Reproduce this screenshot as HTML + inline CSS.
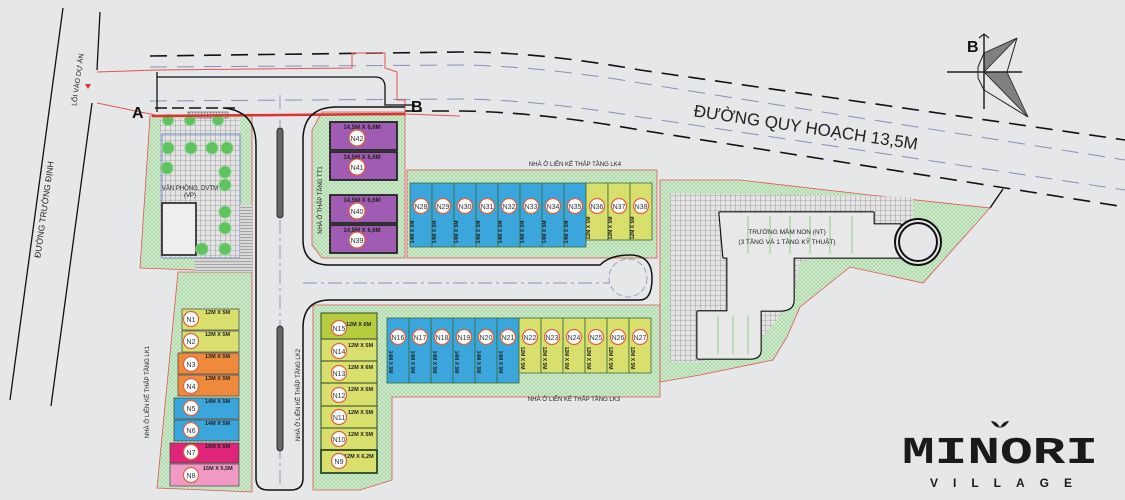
<!DOCTYPE html>
<html><head><meta charset="utf-8"><style>
html,body{margin:0;padding:0;background:#e6e7e8;}
svg{display:block;font-family:"Liberation Sans","DejaVu Sans",sans-serif;}
.b{font-weight:bold;}
</style></head><body>
<svg width="1125" height="500" viewBox="0 0 1125 500" xmlns="http://www.w3.org/2000/svg">
<defs>
<pattern id="h" width="4" height="4" patternUnits="userSpaceOnUse"><rect width="4" height="4" fill="#d6ecd2"/><path d="M0 0L4 4M4 0L0 4" stroke="#98d098" stroke-width="0.6"/></pattern>
<pattern id="g" width="5" height="5" patternUnits="userSpaceOnUse"><rect width="5" height="5" fill="#e4e4e4"/><path d="M0 0H5M0 0V5" stroke="#6e6e6e" stroke-width="0.6"/></pattern>
<pattern id="st" width="3" height="3" patternUnits="userSpaceOnUse"><rect width="3" height="3" fill="#d8d8d8"/><path d="M0 0H3" stroke="#555" stroke-width="0.8"/></pattern>
<pattern id="sv" width="3" height="3" patternUnits="userSpaceOnUse"><rect width="3" height="3" fill="#d8d8d8"/><path d="M0 0V3" stroke="#555" stroke-width="0.8"/></pattern>
</defs>
<rect width="1125" height="500" fill="#e6e7e8"/>

<!-- Truong Dinh road -->
<line x1="63" y1="8" x2="10" y2="400" stroke="#111" stroke-width="1.3"/>
<path d="M100 12 L97 70 M92 103 L51 406" stroke="#111" stroke-width="1.3" fill="none"/>
<text x="0" y="0" font-size="8.5" transform="translate(47,210) rotate(-82)" text-anchor="middle" fill="#222">ĐƯỜNG TRƯỜNG ĐỊNH</text>
<text x="0" y="0" font-size="7" transform="translate(80,80) rotate(-82)" text-anchor="middle" fill="#222">LỐI VÀO DỰ ÁN</text>
<path d="M85 84 L91 84 L88 89 Z" fill="#d33"/>

<!-- planned road lines -->
<path d="M150 56 L460 52 Q540 52 640 70 L1125 140" stroke="#111" stroke-width="1.6" fill="none" stroke-dasharray="17 10"/>
<path d="M150 67 L460 65 Q540 66 640 83 L1125 160" stroke="#8890b8" stroke-width="1" fill="none" stroke-dasharray="17 10"/>
<path d="M150 101 L460 99 Q540 100 640 117 L1125 190" stroke="#8890b8" stroke-width="1" fill="none" stroke-dasharray="17 10"/>
<path d="M405 111 L460 111 Q540 112 640 130 L1125 207" stroke="#111" stroke-width="1.6" fill="none" stroke-dasharray="17 10"/>
<path d="M155 108 L235 108" stroke="#111" stroke-width="1.4" stroke-dasharray="12 5"/>
<line x1="1003" y1="189" x2="990" y2="208" stroke="#111" stroke-width="1.4"/>
<text x="0" y="0" font-size="17" transform="translate(805,133) rotate(8.5)" text-anchor="middle" fill="#222">ĐƯỜNG QUY HOẠCH 13,5M</text>

<!-- red boundary top -->
<path d="M97 72 L157 70 L352 68 L352 53 L385 53 L385 68 L397 72 L397 100 L405 100 L405 118" stroke="#e25555" stroke-width="1" fill="none"/>
<path d="M97 103 L155 115" stroke="#e25555" stroke-width="1" fill="none"/>
<path d="M157 77 H375 Q385 77 385 87 V105 H415" stroke="#111" stroke-width="1.3" fill="none"/>
<line x1="157" y1="72" x2="157" y2="112" stroke="#111" stroke-width="1.3"/>

<!-- hatched areas -->
<path d="M150 116 L252 116 L252 272 L140 268 Z" fill="url(#h)" stroke="#e25555" stroke-width="0.8"/>
<path d="M178 272 L252 272 L252 492 L157 488 Z" fill="url(#h)" stroke="#e25555" stroke-width="0.8"/>
<path d="M322 112 L405 112 L405 258 L322 258 L312 245 L312 130 Z" fill="url(#h)" stroke="#e25555" stroke-width="0.8"/>
<rect x="407" y="170" width="250" height="88" fill="url(#h)" stroke="#e25555" stroke-width="0.8"/>
<path d="M313 305 L660 305 L660 397 L392 397 L392 480 L360 490 L313 490 Z" fill="url(#h)" stroke="#e25555" stroke-width="0.8"/>
<path d="M660 180 L740 180 L870 195 L990 208 L923 283 L850 267 L800 307 L787 337 L773 360 L700 375 L660 382 Z" fill="url(#h)" stroke="#e25555" stroke-width="0.8"/>
<path d="M670 193 L913 197 L913 225 L800 262 L793 300 L760 340 L700 362 L670 362 Z" fill="url(#g)"/>

<!-- office -->
<rect x="160" y="118" width="80" height="140" fill="url(#g)"/>
<rect x="162" y="134" width="78" height="124" fill="none" stroke="#7f9ad0" stroke-width="1.2"/>
<rect x="188" y="112" width="40" height="6" fill="url(#sv)" stroke="#333" stroke-width="0.5"/>
<rect x="162" y="203" width="34" height="52" fill="#eee" stroke="#111" stroke-width="1.5"/>
<path d="M195 258 L240 258 L240 205 L252 205 L252 272 L195 272 Z" fill="url(#st)"/>
<g fill="#5fc35f" stroke="#8cd38c" stroke-width="1">
<circle cx="168" cy="120" r="5.5"/><circle cx="190" cy="120" r="5.5"/><circle cx="218" cy="120" r="5.5"/>
<circle cx="168" cy="148" r="6"/><circle cx="191" cy="148" r="6"/><circle cx="212" cy="148" r="6"/><circle cx="227" cy="148" r="6"/>
<circle cx="167" cy="168" r="6"/><circle cx="225" cy="172" r="6"/><circle cx="225" cy="185" r="6"/>
<circle cx="225" cy="212" r="6"/><circle cx="225" cy="228" r="6"/><circle cx="202" cy="249" r="6"/><circle cx="225" cy="249" r="6"/>
</g>
<text x="190" y="190" font-size="6" text-anchor="middle" fill="#222">VĂN PHÒNG, DVTM</text>
<text x="190" y="197" font-size="6" text-anchor="middle" fill="#222">(VP)</text>

<!-- A-B line -->
<line x1="152" y1="116" x2="405" y2="114" stroke="#e03030" stroke-width="2.5"/>
<line x1="405" y1="114" x2="460" y2="116" stroke="#e25555" stroke-width="1"/>
<text x="132" y="118" font-size="16" class="b" fill="#111">A</text>
<text x="411" y="112" font-size="16" class="b" fill="#111">B</text>

<!-- curbs -->
<path d="M225 108 Q256 112 256 145 V478 Q256 490 268 490 H291 Q303 490 303 478 V328 Q303 300 330 300 H640 Q652 300 652 278 Q652 255 630 255 Q610 255 600 265 H330 Q303 265 303 240 V140 Q303 108 335 107 H405" stroke="#111" stroke-width="1.5" fill="none"/>
<circle cx="628" cy="278" r="19" fill="none" stroke="#8890b8" stroke-width="0.8" stroke-dasharray="6 3"/>
<path d="M280 95 V485 M303 283 H610" stroke="#8890b8" stroke-width="0.9" stroke-dasharray="14 4 3 4"/>
<rect x="277" y="128" width="6" height="90" rx="3" fill="#666" stroke="#111" stroke-width="0.8"/>
<rect x="277" y="326" width="6" height="125" rx="3" fill="#666" stroke="#111" stroke-width="0.8"/>

<!-- LK1 -->
<g font-size="5.5" class="b" fill="#222">
<rect x="182" y="309" width="57" height="21" fill="#d8df6c" stroke="#444" stroke-width="0.7"/>
<rect x="182" y="331" width="57" height="21" fill="#d8df6c" stroke="#444" stroke-width="0.7"/>
<rect x="178" y="353" width="61" height="21" fill="#ef8a3c" stroke="#444" stroke-width="0.7"/>
<rect x="178" y="375" width="61" height="21" fill="#ef8a3c" stroke="#444" stroke-width="0.7"/>
<rect x="174" y="398" width="65" height="21" fill="#3aa6dc" stroke="#444" stroke-width="0.7"/>
<rect x="174" y="420" width="65" height="21" fill="#3aa6dc" stroke="#444" stroke-width="0.7"/>
<rect x="170" y="443" width="69" height="20" fill="#e0247a" stroke="#444" stroke-width="0.7"/>
<rect x="170" y="464" width="69" height="22" fill="#f29ac6" stroke="#444" stroke-width="0.7"/>
<text x="205" y="314">12M X 5M</text><text x="205" y="336">12M X 5M</text>
<text x="205" y="358">13M X 5M</text><text x="205" y="380">13M X 5M</text>
<text x="205" y="403">14M X 5M</text><text x="205" y="425">14M X 5M</text>
<text x="205" y="448">15M X 5M</text><text x="203" y="470">15M X 5,5M</text>
</g>
<text x="0" y="0" font-size="6" transform="translate(149,392) rotate(-90)" text-anchor="middle" fill="#222">NHÀ Ở LIÊN KẾ THẤP TẦNG LK1</text>

<!-- TT1 -->
<g fill="#a05cb2" stroke="#222" stroke-width="1.8">
<rect x="330" y="122" width="67" height="28"/><rect x="330" y="152" width="67" height="28"/>
<rect x="330" y="195" width="67" height="28"/><rect x="330" y="225" width="67" height="28"/>
</g>
<g font-size="6" class="b" fill="#222" text-anchor="middle">
<text x="362" y="129">14,5M X 6,6M</text><text x="362" y="159">14,5M X 6,6M</text>
<text x="362" y="202">14,5M X 6,6M</text><text x="362" y="232">14,5M X 6,6M</text>
</g>
<text x="0" y="0" font-size="6" transform="translate(322,200) rotate(-90)" text-anchor="middle" fill="#222">NHÀ Ở THẤP TẦNG TT1</text>

<!-- LK4 -->
<g stroke="#3a6b3a" stroke-width="0.8">
<rect x="410" y="183" width="22" height="64" fill="#3aa6dc"/><rect x="432" y="183" width="22" height="64" fill="#3aa6dc"/>
<rect x="454" y="183" width="22" height="64" fill="#3aa6dc"/><rect x="476" y="183" width="22" height="64" fill="#3aa6dc"/>
<rect x="498" y="183" width="22" height="64" fill="#3aa6dc"/><rect x="520" y="183" width="22" height="64" fill="#3aa6dc"/>
<rect x="542" y="183" width="22" height="64" fill="#3aa6dc"/><rect x="564" y="183" width="22" height="64" fill="#3aa6dc"/>
<rect x="586" y="183" width="22" height="57" fill="#d8df6c"/><rect x="608" y="183" width="22" height="57" fill="#d8df6c"/>
<rect x="630" y="183" width="22" height="57" fill="#d8df6c"/>
</g>
<text x="575" y="166" font-size="6" text-anchor="middle" fill="#222">NHÀ Ở LIÊN KẾ THẤP TẦNG LK4</text>

<!-- LK3 -->
<g stroke="#3a6b3a" stroke-width="0.8">
<rect x="387" y="318" width="22" height="65" fill="#3aa6dc"/><rect x="409" y="318" width="22" height="65" fill="#3aa6dc"/>
<rect x="431" y="318" width="22" height="65" fill="#3aa6dc"/><rect x="453" y="318" width="22" height="65" fill="#3aa6dc"/>
<rect x="475" y="318" width="22" height="65" fill="#3aa6dc"/><rect x="497" y="318" width="22" height="65" fill="#3aa6dc"/>
<rect x="519" y="318" width="22" height="55" fill="#d8df6c"/><rect x="541" y="318" width="22" height="55" fill="#d8df6c"/>
<rect x="563" y="318" width="22" height="55" fill="#d8df6c"/><rect x="585" y="318" width="22" height="55" fill="#d8df6c"/>
<rect x="607" y="318" width="22" height="55" fill="#d8df6c"/><rect x="629" y="318" width="22" height="55" fill="#d8df6c"/>
</g>
<text x="574" y="401" font-size="6" text-anchor="middle" fill="#222">NHÀ Ở LIÊN KẾ THẤP TẦNG LK3</text>

<!-- LK2 -->
<g stroke="#2a4a2a" stroke-width="1">
<rect x="321" y="313" width="56" height="26" fill="#b6cc3e"/>
<rect x="321" y="339" width="56" height="22" fill="#d8df6c"/><rect x="321" y="361" width="56" height="22" fill="#d8df6c"/>
<rect x="321" y="383" width="56" height="23" fill="#d8df6c"/><rect x="321" y="406" width="56" height="22" fill="#d8df6c"/>
<rect x="321" y="428" width="56" height="22" fill="#d8df6c"/><rect x="321" y="450" width="56" height="23" fill="#d8df6c" stroke-width="1.8"/>
</g>
<g font-size="5.5" class="b" fill="#222">
<text x="346" y="326">12M X 6M</text><text x="348" y="347">12M X 5M</text><text x="348" y="369">12M X 6M</text>
<text x="348" y="391">12M X 6M</text><text x="348" y="414">12M X 5M</text><text x="348" y="436">12M X 5M</text>
<text x="344" y="458">12M X 6,2M</text>
</g>
<text x="0" y="0" font-size="6" transform="translate(300,395) rotate(-90)" text-anchor="middle" fill="#222">NHÀ Ở LIÊN KẾ THẤP TẦNG LK2</text>

<!-- vertical size labels -->
<g font-size="5" class="b" fill="#222" text-anchor="middle">
<text transform="translate(414,232) rotate(-90)">14M X 5M</text><text transform="translate(436,232) rotate(-90)">14M X 5M</text>
<text transform="translate(458,232) rotate(-90)">14M X 5M</text><text transform="translate(480,232) rotate(-90)">14M X 5M</text>
<text transform="translate(502,232) rotate(-90)">14M X 5M</text><text transform="translate(524,232) rotate(-90)">14M X 5M</text>
<text transform="translate(546,232) rotate(-90)">14M X 5M</text><text transform="translate(568,232) rotate(-90)">14M X 5M</text>
<text transform="translate(590,228) rotate(-90)">12M X 5M</text><text transform="translate(612,228) rotate(-90)">12M X 5M</text>
<text transform="translate(634,228) rotate(-90)">12M X 5M</text>
<text transform="translate(389,362) rotate(90)">14M X 5M</text><text transform="translate(411,362) rotate(90)">14M X 5M</text>
<text transform="translate(433,362) rotate(90)">14M X 5M</text><text transform="translate(455,362) rotate(90)">14M X 5M</text>
<text transform="translate(477,362) rotate(90)">14M X 5M</text><text transform="translate(499,362) rotate(90)">14M X 5M</text>
<text transform="translate(521,358) rotate(90)">12M X 5M</text><text transform="translate(543,358) rotate(90)">12M X 5M</text>
<text transform="translate(565,358) rotate(90)">12M X 5M</text><text transform="translate(587,358) rotate(90)">12M X 5M</text>
<text transform="translate(609,358) rotate(90)">12M X 5M</text><text transform="translate(631,358) rotate(90)">12M X 5M</text>
</g>

<!-- badges -->
<g fill="#fff" stroke="#e0603a" stroke-width="1.2">
<circle cx="191" cy="319" r="7.5"/><circle cx="191" cy="341" r="7.5"/><circle cx="191" cy="364" r="7.5"/><circle cx="191" cy="386" r="7.5"/>
<circle cx="191" cy="408" r="7.5"/><circle cx="191" cy="430" r="7.5"/><circle cx="191" cy="452" r="7.5"/><circle cx="191" cy="475" r="7.5"/>
<circle cx="357" cy="138" r="8"/><circle cx="357" cy="167" r="8"/><circle cx="357" cy="211" r="8"/><circle cx="357" cy="240" r="8"/>
<circle cx="339" cy="328" r="7.5"/><circle cx="339" cy="351" r="7.5"/><circle cx="339" cy="373" r="7.5"/><circle cx="339" cy="395" r="7.5"/>
<circle cx="339" cy="417" r="7.5"/><circle cx="339" cy="439" r="7.5"/><circle cx="339" cy="461" r="7.5"/>
<circle cx="421" cy="206" r="7.5"/><circle cx="443" cy="206" r="7.5"/><circle cx="465" cy="206" r="7.5"/><circle cx="487" cy="206" r="7.5"/>
<circle cx="509" cy="206" r="7.5"/><circle cx="531" cy="206" r="7.5"/><circle cx="553" cy="206" r="7.5"/><circle cx="575" cy="206" r="7.5"/>
<circle cx="597" cy="206" r="7.5"/><circle cx="619" cy="206" r="7.5"/><circle cx="641" cy="206" r="7.5"/>
<circle cx="398" cy="337" r="7.5"/><circle cx="420" cy="337" r="7.5"/><circle cx="442" cy="337" r="7.5"/><circle cx="464" cy="337" r="7.5"/>
<circle cx="486" cy="337" r="7.5"/><circle cx="508" cy="337" r="7.5"/><circle cx="530" cy="337" r="7.5"/><circle cx="552" cy="337" r="7.5"/>
<circle cx="574" cy="337" r="7.5"/><circle cx="596" cy="337" r="7.5"/><circle cx="618" cy="337" r="7.5"/><circle cx="640" cy="337" r="7.5"/>
</g>
<g font-size="7" fill="#333" text-anchor="middle">
<text x="191" y="322">N1</text><text x="191" y="344">N2</text><text x="191" y="367">N3</text><text x="191" y="389">N4</text>
<text x="191" y="411">N5</text><text x="191" y="433">N6</text><text x="191" y="455">N7</text><text x="191" y="478">N8</text>
<text x="357" y="141">N42</text><text x="357" y="170">N41</text><text x="357" y="214">N40</text><text x="357" y="243">N39</text>
<text x="339" y="331">N15</text><text x="339" y="354">N14</text><text x="339" y="376">N13</text><text x="339" y="398">N12</text>
<text x="339" y="420">N11</text><text x="339" y="442">N10</text><text x="339" y="464">N9</text>
<text x="421" y="209">N28</text><text x="443" y="209">N29</text><text x="465" y="209">N30</text><text x="487" y="209">N31</text>
<text x="509" y="209">N32</text><text x="531" y="209">N33</text><text x="553" y="209">N34</text><text x="575" y="209">N35</text>
<text x="597" y="209">N36</text><text x="619" y="209">N37</text><text x="641" y="209">N38</text>
<text x="398" y="340">N16</text><text x="420" y="340">N17</text><text x="442" y="340">N18</text><text x="464" y="340">N19</text>
<text x="486" y="340">N20</text><text x="508" y="340">N21</text><text x="530" y="340">N22</text><text x="552" y="340">N23</text>
<text x="574" y="340">N24</text><text x="596" y="340">N25</text><text x="618" y="340">N26</text><text x="640" y="340">N27</text>
</g>

<!-- school -->
<path d="M720 213 L873 213 L873 225 L900 225 L900 257 L793 257 L793 300 Q793 310 780 310 L760 310 L760 350 Q760 358 750 358 L698 358 L698 312 L728 312 L728 257 L724 257 Z" fill="#e8e8e8" stroke="#111" stroke-width="3.5" stroke-linejoin="round"/>
<path d="M720 213 L873 213 L873 225 L900 225 L900 257 L793 257 L793 300 Q793 310 780 310 L760 310 L760 350 Q760 358 750 358 L698 358 L698 312 L728 312 L728 257 L724 257 Z" fill="#e8e8e8" stroke="#e8e8e8" stroke-width="1.2" stroke-linejoin="round"/>
<g stroke="#9ad49a" stroke-width="1.2">
<line x1="748" y1="216" x2="748" y2="254"/><line x1="770" y1="216" x2="770" y2="254"/><line x1="790" y1="216" x2="790" y2="254"/>
<line x1="810" y1="216" x2="810" y2="254"/><line x1="830" y1="216" x2="830" y2="254"/><line x1="852" y1="216" x2="852" y2="254"/>
<line x1="718" y1="316" x2="718" y2="354"/><line x1="733" y1="316" x2="733" y2="354"/><line x1="748" y1="316" x2="748" y2="354"/>
</g>
<circle cx="918" cy="242" r="23" fill="#e6e7e8" stroke="#111" stroke-width="2"/>
<circle cx="918" cy="242" r="19" fill="#e6e7e8" stroke="#111" stroke-width="2"/>
<text x="787" y="234" font-size="6.5" text-anchor="middle" fill="#222">TRƯỜNG MẦM NON (NT)</text>
<text x="787" y="244" font-size="6.5" text-anchor="middle" fill="#222">(3 TẦNG VÀ 1 TẦNG KỸ THUẬT)</text>

<!-- compass -->
<path d="M984 53 L1017 38 L984 72 Z" fill="#808080" stroke="#222" stroke-width="0.8"/>
<path d="M984 72 L1007 72 L1028 117 Z" fill="#808080" stroke="#222" stroke-width="0.8"/>
<path d="M1017 38 L1007 72 M984 90 L1028 117 M978 67 L984 53 M978 67 L978 78 L984 90" stroke="#222" stroke-width="1" fill="none"/>
<line x1="984" y1="35" x2="984" y2="109" stroke="#222" stroke-width="1.5"/>
<line x1="947" y1="72" x2="1022" y2="72" stroke="#222" stroke-width="1.5"/>
<path d="M979 38 L984 34 L989 38" stroke="#222" stroke-width="1.2" fill="none"/>
<text x="967" y="52" font-size="16" class="b" fill="#111">B</text>

<!-- logo -->
<text x="902" y="463" font-size="38" class="b" fill="#1a1a1a" textLength="196" lengthAdjust="spacingAndGlyphs" font-family="Liberation Mono, monospace">MINORI</text>
<path d="M1000 428 Q997 421 991 421 Q994 427 1000 428 Q1006 427 1009 421 Q1003 421 1000 428 Z" fill="#1a1a1a"/>
<text x="930" y="487" font-size="12" class="b" fill="#1a1a1a" textLength="142" lengthAdjust="spacing">VILLAGE</text>
</svg>
</body></html>
